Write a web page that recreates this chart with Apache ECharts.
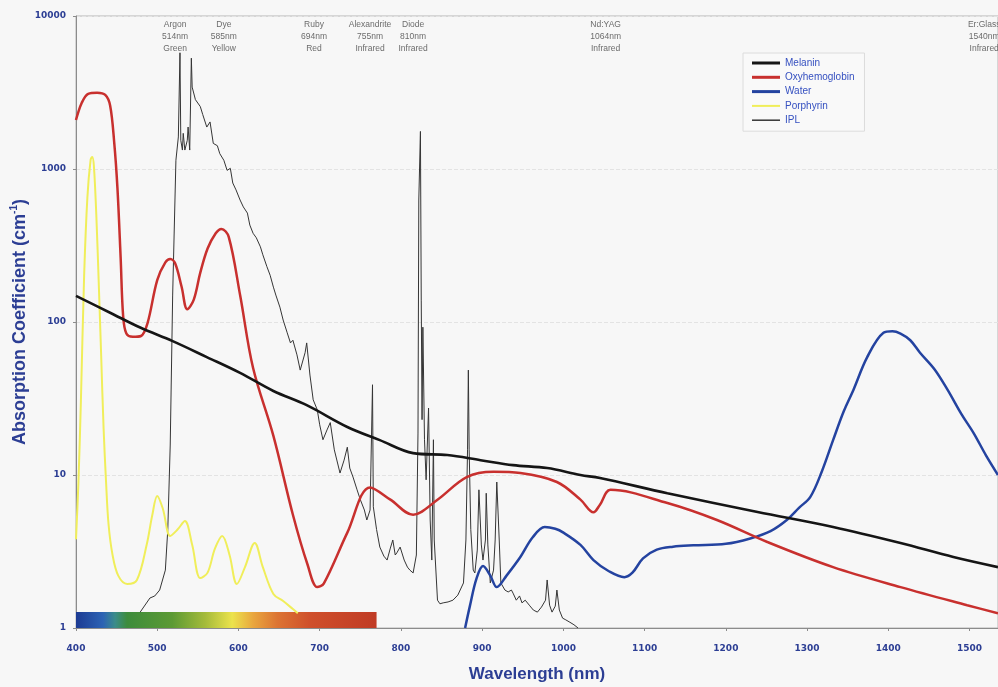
<!DOCTYPE html>
<html>
<head>
<meta charset="utf-8">
<script src="https://cdn.jsdelivr.net/npm/echarts@6/dist/echarts.min.js"></script>
<style>
  html, body { margin: 0; padding: 0; background: #f7f7f7; }
  #chart { width: 998px; height: 687px; }
</style>
</head>
<body>
<div id="chart"></div>
<script>
// Absorption spectra of skin chromophores, [wavelength nm, coefficient cm^-1]
const melanin = [[400,148],[442,115],[479,92],[519,75],[561,59],[602,46.5],[643,35.4],[684,28.6],
  [734,20.6],[774,16.9],[815,13.9],[857,13.5],[898,12.5],[938,11.6],[980,11.1],[1021,10],[1045,9.56],
  [1128,7.6],[1239,5.73],[1332,4.57],[1415,3.59],[1480,2.91],[1535,2.5]];

const oxyhemoglobin = [[400,2090],[407,2700],[415,3100],[426,3150],[436,3050],[442,2600],[447,1500],
  [451,752],[455,260],[458,110],[462,84],[470,80],[480,81],[488,98],[500,188],[510,245],[516,258],
  [522,242],[530,170],[537,121],[545,140],[553,210],[562,302],[572,380],[579,406],[588,360],[602,150],
  [618,50],[643,18],[667,5.5],[685,2.6],[697,1.85],[705,1.95],[734,4.2],[762,8.3],[787,6.9],[815,5.5],
  [845,6.9],[881,9.7],[914,10.5],[947,10.3],[992,9.0],[1021,6.9],[1037,5.7],[1045,6.4],[1058,8.0],
  [1128,6.56],[1189,5.08],[1251,3.65],[1332,2.5],[1415,1.85],[1497,1.41],[1535,1.25]];

const water = [[879,1.0],[885,1.4],[893,2.1],[901,2.54],[910,2.2],[918,1.85],[930,2.2],[947,2.91],
  [962,3.9],[977,4.57],[990,4.45],[1000,4.2],[1021,3.49],[1037,2.78],[1056,2.35],[1075,2.15],[1085,2.3],
  [1098,2.85],[1115,3.25],[1135,3.4],[1160,3.47],[1200,3.55],[1230,3.85],[1255,4.3],[1275,5.08],
  [1290,6.1],[1304,7.2],[1318,10.5],[1332,16.9],[1345,26],[1357,36],[1374,59],[1394,85],[1405,87],
  [1415,84],[1427,76],[1439,63],[1457,49],[1473,36],[1490,25],[1505,18.8],[1520,13.5],[1535,10]];

const porphyrin = [[400,3.8],[403,9],[406,30],[410,200],[414,650],[418,1150],[420,1200],[422,1050],
  [425,500],[428,180],[431,60],[434,20],[437,9],[440,4.8],[445,3],[452,2.2],[463,1.94],[475,2.06],
  [487,3.5],[494,5.5],[500,7.3],[507,6],[516,4.0],[525,4.4],[534,5.0],[543,3.5],[553,2.12],[562,2.3],
  [571,3.3],[580,4.0],[589,3.0],[598,1.94],[608,2.5],[620,3.6],[630,2.5],[643,1.67],[655,1.5],
  [667,1.33],[673,1.25]];

// Intense pulsed light lamp emission (relative), same scale
const ipl = [[479,1.27],[491,1.57],[497,1.62],[503,1.77],[510,2.39],[513,4.4],[516,15.7],[519,150],
  [523,1140],[526,1620],[528,5750],[529,1540],[531,1330],[532,1710],[534,1330],[537,1540],[538,1880],
  [540,1330],[542,5300],[543,3430],[547,2840],[553,2560],[556,2270],[561,1880],[565,2030],[569,1470],
  [574,1420],[577,1260],[582,1140],[586,980],[590,1010],[593,810],[597,730],[602,627],[606,565],
  [611,515],[614,430],[618,380],[622,355],[627,310],[630,275],[635,230],[639,202],[643,169],[646,150],
  [651,125],[655,103],[660,85],[664,73],[667,76],[672,61],[676,48.5],[682,63],[684,73],[688,45],
  [692,31],[697,26.7],[700,21.3],[704,17],[709,19.7],[713,22],[718,14.6],[725,10.3],[730,12.5],
  [734,15.2],[737,11.1],[741,9.7],[746,8],[750,6.9],[755,5.9],[758,5.08],[762,5.9],[765,38.9],
  [766,6.2],[770,4.4],[774,3.38],[779,2.95],[783,2.78],[787,3.33],[790,3.76],[793,3.0],[795,3.1],
  [799,3.38],[804,2.78],[808,2.5],[811,2.39],[815,2.29],[819,3.0],[821,18.8],[822,627],[824,1760],
  [825,139],[826,23],[827,92.5],[829,17],[831,9.3],[834,27.4],[836,5.08],[838,2.78],[840,17],
  [841,3.76],[845,1.52],[848,1.44],[852,1.46],[858,1.48],[864,1.52],[870,1.64],[877,1.97],[880,3.76],
  [882,14.6],[883,48.5],[884,14.6],[886,4.4],[889,2.39],[891,2.29],[894,3.23],[896,8],[899,3.49],
  [901,2.78],[904,3.76],[905,7.6],[907,3.49],[910,1.97],[914,2.39],[916,3.76],[918,9],[921,3.76],
  [923,1.97],[928,1.77],[932,1.72],[936,1.77],[938,1.69],[942,1.52],[946,1.62],[949,1.46],[953,1.52],
  [958,1.41],[963,1.31],[968,1.27],[973,1.37],[978,1.52],[980,2.06],[983,1.41],[986,1.27],[990,1.39],
  [992,1.77],[995,1.31],[999,1.16],[1003,1.13],[1008,1.09],[1013,1.05],[1018,1.0]];

// Laser annotations along the top edge
const laserNames = ['Argon', 'Dye', 'Ruby', 'Alexandrite', 'Diode', 'Nd:YAG', 'Er:Glass'];
const laserLines = ['514nm', '585nm', '694nm', '755nm', '810nm', '1064nm', '1540nm'];
const laserBands = ['Green', 'Yellow', 'Red', 'Infrared', 'Infrared', 'Infrared', 'Infrared'];
const laserLabelAt = [522, 582, 693, 762, 815, 1052, 1518];

// Visible spectrum strip
const spectrumRange = [400, 770];
const spectrumTop = 1.27;

const axisBlue = '#2c3e94';

const chart = echarts.init(document.getElementById('chart'));

function curve(name, data, color, width, smooth, z) {
  return {
    type: 'line', name, data, symbol: 'none', smooth, z,
    lineStyle: { color, width }, itemStyle: { color },
    emphasis: { disabled: true }
  };
}

// legend swatches: flat bars whose thickness follows the line width
const swatch = (h) => 'path://M0,0H28V' + h + 'H0Z';

const porphyrinSeries = curve('Porphyrin', porphyrin, '#f0ee5a', 2, 0.35, 3);
porphyrinSeries.markArea = {
  silent: true,
  itemStyle: {
    color: new echarts.graphic.LinearGradient(0, 0, 1, 0, [
      { offset: 0.00, color: '#1d3b93' },
      { offset: 0.09, color: '#2c63b4' },
      { offset: 0.13, color: '#3b8c8a' },
      { offset: 0.17, color: '#3d8c3c' },
      { offset: 0.32, color: '#5c9a34' },
      { offset: 0.43, color: '#a5bb3a' },
      { offset: 0.52, color: '#ece34c' },
      { offset: 0.59, color: '#e9a63e' },
      { offset: 0.67, color: '#dc7433' },
      { offset: 0.78, color: '#cf4f2b' },
      { offset: 1.00, color: '#c03b25' }
    ])
  },
  data: [[{ coord: [spectrumRange[0], 1] }, { coord: [spectrumRange[1], spectrumTop] }]]
};

const tickFont = { color: axisBlue, fontSize: 9, fontWeight: 'bold', fontFamily: 'DejaVu Sans, sans-serif' };

const option = {
  backgroundColor: '#f7f7f7',
  animation: false,
  textStyle: { fontFamily: 'Liberation Sans, Arial, sans-serif' },
  grid: {
    left: 76, top: 16, right: 0, bottom: 59,
    outerBoundsMode: 'none', containLabel: false,
    show: true, borderColor: '#b4b4b4', borderWidth: 1
  },
  legend: {
    data: [
      { name: 'Melanin', icon: swatch(3) },
      { name: 'Oxyhemoglobin', icon: swatch(3) },
      { name: 'Water', icon: swatch(3) },
      { name: 'Porphyrin', icon: swatch(2) },
      { name: 'IPL', icon: swatch(1.5) }
    ],
    orient: 'vertical', left: 743, top: 53,
    itemWidth: 28, itemHeight: 8, itemGap: 4.3,
    symbolKeepAspect: true,
    padding: [5, 10, 6, 9],
    borderColor: '#dcdcdc', borderWidth: 1,
    backgroundColor: '#f9f9f9',
    textStyle: { color: '#3550c0', fontSize: 10 },
    selectedMode: false
  },
  xAxis: {
    type: 'value', min: 400, max: 1535, interval: 100,
    name: 'Wavelength (nm)', nameLocation: 'middle', nameGap: 38,
    nameTextStyle: { color: axisBlue, fontSize: 17, fontWeight: 'bold' },
    axisLine: { show: true, lineStyle: { color: '#8c8c8c' } },
    axisTick: { show: true, length: 3, lineStyle: { color: '#8c8c8c' } },
    axisLabel: Object.assign({ margin: 16, showMaxLabel: false, formatter: (v) => String(v) }, tickFont),
    splitLine: { show: false }
  },
  yAxis: {
    type: 'log', logBase: 10, min: 1, max: 10000,
    name: '{t|Absorption Coefficient (cm}{s|-1}{t|)}',
    nameLocation: 'middle', nameGap: 45, nameRotate: 90, nameMoveOverlap: false,
    nameTextStyle: {
      rich: {
        t: { color: axisBlue, fontSize: 18, fontWeight: 'bold', lineHeight: 22 },
        s: { color: axisBlue, fontSize: 10, fontWeight: 'bold', lineHeight: 22, verticalAlign: 'top', padding: [0, 0, 11, 0] }
      }
    },
    axisLine: { show: true, lineStyle: { color: '#8c8c8c' } },
    axisTick: { show: true, length: 3, lineStyle: { color: '#8c8c8c' } },
    axisLabel: Object.assign({ margin: 10, formatter: (v) => String(Math.round(v)) }, tickFont),
    splitLine: { show: true, lineStyle: { color: '#e3e3e3', type: 'dashed' } }
  },
  series: [
    curve('IPL', ipl, '#353535', 1, false, 2),
    porphyrinSeries,
    curve('Water', water, '#2443a0', 2.5, 0.35, 4),
    curve('Oxyhemoglobin', oxyhemoglobin, '#c8302e', 2.5, 0.35, 5),
    curve('Melanin', melanin, '#151515', 2.6, 0.35, 6),
    {
      type: 'scatter', name: 'lasers', symbolSize: 0, silent: true, clip: false, z: 7,
      data: laserLabelAt.map((x, i) => ({
        value: [x, 10000],
        label: { formatter: [laserNames[i], laserLines[i], laserBands[i]].join('\n') }
      })),
      label: {
        show: true, position: 'bottom', distance: 3,
        fontSize: 8.5, lineHeight: 12, color: '#474747', align: 'center'
      }
    }
  ]
};

chart.setOption(option);
</script>
</body>
</html>
